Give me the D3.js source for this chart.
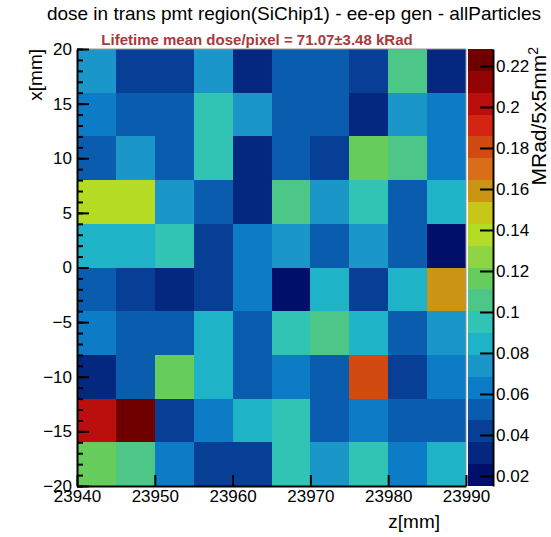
<!DOCTYPE html>
<html>
<head>
<meta charset="utf-8">
<script src="https://cdn.jsdelivr.net/npm/d3@7"></script>
<style>
  html, body { margin: 0; padding: 0; background: #fff; }
  svg { display: block; }
  text { font-family: "Liberation Sans", Arial, Helvetica, sans-serif; }
</style>
</head>
<body>
<svg id="chart" width="551" height="537"></svg>
<script>
// ---- data ----
const titleText = "dose in trans pmt region(SiChip1) - ee-ep gen - allParticles";
const subtitleText = "Lifetime mean dose/pixel = 71.07\u00b13.48 kRad";
const zEdges = [23940, 23945, 23950, 23955, 23960, 23965, 23970, 23975, 23980, 23985, 23990];
const xEdges = [20, 16, 12, 8, 4, 0, -4, -8, -12, -16, -20]; // row edges, top to bottom
const zTicks = [23940, 23950, 23960, 23970, 23980, 23990];
const xTicks = [-20, -15, -10, -5, 0, 5, 10, 15, 20];
const xMinorTicks = d3.range(-20, 21, 1);
const paletteTicks = [0.02, 0.04, 0.06, 0.08, 0.1, 0.12, 0.14, 0.16, 0.18, 0.2, 0.22];
// dose in MRad per 5x5 mm^2 pixel; rows from top (x 16..20) to bottom (x -20..-16)
const doseRow1  = [0.074, 0.042, 0.042, 0.074, 0.031, 0.052, 0.052, 0.042, 0.106, 0.031];
const doseRow2  = [0.063, 0.052, 0.052, 0.095, 0.074, 0.052, 0.052, 0.031, 0.074, 0.063];
const doseRow3  = [0.052, 0.074, 0.052, 0.095, 0.031, 0.052, 0.042, 0.116, 0.106, 0.063];
const doseRow4  = [0.138, 0.138, 0.074, 0.052, 0.031, 0.106, 0.074, 0.095, 0.052, 0.084];
const doseRow5  = [0.084, 0.084, 0.095, 0.042, 0.063, 0.074, 0.052, 0.074, 0.052, 0.021];
const doseRow6  = [0.052, 0.042, 0.031, 0.042, 0.063, 0.0151, 0.084, 0.042, 0.084, 0.159];
const doseRow7  = [0.063, 0.052, 0.052, 0.084, 0.052, 0.095, 0.106, 0.084, 0.052, 0.074];
const doseRow8  = [0.031, 0.052, 0.116, 0.084, 0.052, 0.063, 0.052, 0.180, 0.042, 0.063];
const doseRow9  = [0.202, 0.2283, 0.042, 0.063, 0.084, 0.095, 0.052, 0.063, 0.052, 0.052];
const doseRow10 = [0.116, 0.106, 0.063, 0.042, 0.042, 0.095, 0.074, 0.095, 0.063, 0.084];
const doseRows = [doseRow1, doseRow2, doseRow3, doseRow4, doseRow5, doseRow6, doseRow7, doseRow8, doseRow9, doseRow10];
// palette, low -> high (20 levels)
const paletteColors = [
  "#000f6a", "#04277f", "#073f96", "#0a5cae", "#0d7cc6", "#1a97c8", "#1fb3c7", "#31c3b3",
  "#4cc788", "#66cd5c", "#8ed444", "#b4dc24", "#c9c61a", "#ca9512", "#da6d18", "#d14a12",
  "#d32414", "#bb0f0e", "#930303", "#6e0000"
];

// ---- layout ----
const plot = { left: 77, right: 466, top: 49, bottom: 486 };
const pal = { left: 468, right: 493 };

const svg = d3.select("#chart");
svg.append("rect").attr("width", 551).attr("height", 537).attr("fill", "#fff");

const xScale = d3.scaleLinear().domain([23940, 23990]).range([plot.left, plot.right]);
const yScale = d3.scaleLinear().domain([-20, 20]).range([plot.bottom, plot.top]);

const allVals = doseRows.flat();
const [zmin, zmax] = d3.extent(allVals);
const color = d3.scaleQuantize().domain([zmin, zmax]).range(paletteColors);

// cells
const cells = [];
doseRows.forEach((row, r) => {
  row.forEach((v, c) => {
    cells.push({ z0: zEdges[c], z1: zEdges[c + 1], x0: xEdges[r + 1], x1: xEdges[r], v });
  });
});
svg.append("g").selectAll("rect").data(cells).join("rect")
  .attr("x", d => xScale(d.z0))
  .attr("y", d => yScale(d.x1))
  .attr("width", d => xScale(d.z1) - xScale(d.z0))
  .attr("height", d => yScale(d.x0) - yScale(d.x1))
  .attr("fill", d => color(d.v))
  .attr("shape-rendering", "crispEdges");

// frame top/right
svg.append("path")
  .attr("d", `M${plot.left},${plot.top}H${plot.right}V${plot.bottom}`)
  .attr("fill", "none").attr("stroke", "#999").attr("stroke-width", 1);

// y axis (ticks inward)
const yAxisMinor = d3.axisLeft(yScale).tickValues(xMinorTicks).tickSize(-6).tickSizeOuter(0).tickFormat("");
const gyMinor = svg.append("g").attr("transform", `translate(${plot.left},0)`).call(yAxisMinor);
gyMinor.select(".domain").remove();
gyMinor.selectAll("line").attr("stroke", "#000").attr("stroke-width", 2);

const yAxis = d3.axisLeft(yScale).tickValues(xTicks).tickSize(-12).tickSizeOuter(0).tickPadding(5)
  .tickFormat(d => d < 0 ? "\u2212" + Math.abs(d) : String(d));
const gy = svg.append("g").attr("transform", `translate(${plot.left},0)`).call(yAxis);
gy.select(".domain").attr("stroke", "#000").attr("stroke-width", 2);
gy.selectAll("line").attr("stroke", "#000").attr("stroke-width", 2);
gy.selectAll("text").attr("font-size", 17).attr("fill", "#000").attr("font-family", "Liberation Sans, Arial, sans-serif");

// x axis
const xAxis = d3.axisBottom(xScale).tickValues(zTicks).tickSize(-11).tickSizeOuter(0).tickPadding(4)
  .tickFormat(d3.format("d"));
const gx = svg.append("g").attr("transform", `translate(0,${plot.bottom})`).call(xAxis);
gx.select(".domain").attr("stroke", "#000").attr("stroke-width", 2);
gx.selectAll("line").attr("stroke", "#000").attr("stroke-width", 2);
gx.selectAll("text").attr("font-size", 17).attr("fill", "#000").attr("font-family", "Liberation Sans, Arial, sans-serif");

// palette
const pScale = d3.scaleLinear().domain([zmin, zmax]).range([plot.bottom, plot.top]);
const nLev = paletteColors.length;
const step = (zmax - zmin) / nLev;
svg.append("g").selectAll("rect").data(paletteColors).join("rect")
  .attr("x", pal.left)
  .attr("width", pal.right - pal.left)
  .attr("y", (d, i) => pScale(zmin + (i + 1) * step))
  .attr("height", (d, i) => pScale(zmin + i * step) - pScale(zmin + (i + 1) * step))
  .attr("fill", d => d)
  .attr("shape-rendering", "crispEdges");

const pAxis = d3.axisRight(pScale).tickValues(paletteTicks).tickSize(-13).tickSizeOuter(0).tickPadding(3)
  .tickFormat(d => String(+d.toFixed(2)));
const gp = svg.append("g").attr("transform", `translate(${pal.right},0)`).call(pAxis);
gp.select(".domain").attr("stroke", "#000").attr("stroke-width", 2);
gp.selectAll("line").attr("stroke", "#000").attr("stroke-width", 2);
gp.selectAll("text").attr("font-size", 17).attr("fill", "#000").attr("font-family", "Liberation Sans, Arial, sans-serif");

// titles
svg.append("text").attr("x", 294).attr("y", 20).attr("text-anchor", "middle")
  .attr("font-size", 19).attr("fill", "#000").text(titleText);
svg.append("text").attr("x", 257).attr("y", 45).attr("text-anchor", "middle")
  .attr("font-size", 15).attr("font-weight", "bold").attr("fill", "#a63a3a").text(subtitleText);

// axis titles
svg.append("text").attr("x", 440).attr("y", 528).attr("text-anchor", "end")
  .attr("font-size", 19).attr("fill", "#000").text("z[mm]");
svg.append("text").attr("transform", "translate(42,49) rotate(-90)").attr("text-anchor", "end")
  .attr("font-size", 19).attr("fill", "#000").text("x[mm]");
const pt = svg.append("text").attr("transform", "translate(546,47) rotate(-90)").attr("text-anchor", "end")
  .attr("font-size", 21).attr("fill", "#000");
pt.append("tspan").text("MRad/5x5mm");
pt.append("tspan").attr("dy", "-0.55em").attr("font-size", 14).text("2");
</script>
</body>
</html>
